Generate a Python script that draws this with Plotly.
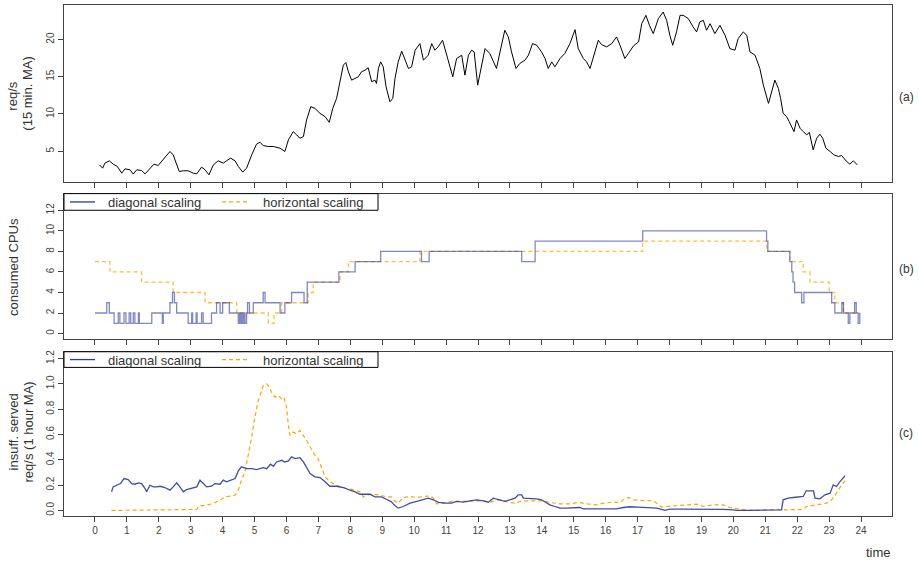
import plotly.graph_objects as go

W, H = 919, 561

# ---------------- data ----------------
# (a) request rate, 15-minute moving average
hours_a = [0.14, 0.24, 0.31, 0.45, 0.57, 0.70, 0.84, 0.94, 1.10, 1.20, 1.31, 1.46, 1.57, 1.72, 1.85, 1.98,
           2.14, 2.35, 2.45, 2.56, 2.64, 2.77, 2.92, 3.08, 3.19, 3.34, 3.45, 3.57, 3.71, 3.86, 4.02, 4.12,
           4.25, 4.39, 4.49, 4.63, 4.75, 4.91, 5.06, 5.17, 5.27, 5.43, 5.59, 5.80, 5.95, 6.06, 6.21, 6.32,
           6.42, 6.53, 6.63, 6.76, 6.89, 7.05, 7.21, 7.34, 7.45, 7.57, 7.68, 7.78, 7.86, 7.94, 8.04, 8.15,
           8.25, 8.35, 8.46, 8.56, 8.67, 8.77, 8.82, 8.88, 8.95, 9.03, 9.12, 9.24, 9.33, 9.40, 9.50, 9.61,
           9.71, 9.82, 9.92, 10.03, 10.18, 10.29, 10.44, 10.55, 10.65, 10.75, 10.89, 11.02, 11.12, 11.21,
           11.33, 11.49, 11.59, 11.70, 11.80, 11.88, 11.99, 12.09, 12.22, 12.37, 12.48, 12.58, 12.69, 12.84,
           12.95, 13.05, 13.19, 13.31, 13.47, 13.58, 13.71, 13.84, 13.99, 14.10, 14.20, 14.31, 14.41, 14.57,
           14.72, 14.88, 15.04, 15.14, 15.30, 15.40, 15.51, 15.61, 15.77, 15.87, 16.03, 16.19, 16.34, 16.45,
           16.60, 16.71, 16.87, 17.03, 17.13, 17.26, 17.37, 17.49, 17.65, 17.80, 17.91, 18.01, 18.10, 18.22,
           18.33, 18.43, 18.59, 18.74, 18.85, 18.95, 19.06, 19.16, 19.27, 19.42, 19.58, 19.74, 19.89, 20.05,
           20.15, 20.31, 20.42, 20.52, 20.68, 20.83, 20.94, 21.10, 21.20, 21.30, 21.41, 21.48, 21.56, 21.67,
           21.75, 21.83, 21.90, 21.98, 22.09, 22.19, 22.30, 22.38, 22.50, 22.61, 22.71, 22.80, 22.90, 23.03,
           23.15, 23.29, 23.39, 23.55, 23.65, 23.76, 23.88]
reqs_a = [3.17, 2.72, 3.39, 3.71, 3.26, 2.95, 2.05, 2.63, 2.50, 1.92, 2.50, 2.41, 1.96, 2.72, 3.26, 3.08,
          3.84, 4.96, 4.51, 3.17, 2.28, 2.37, 2.37, 2.05, 1.96, 2.86, 2.50, 1.83, 3.17, 3.71, 3.39, 3.71,
          4.06, 3.71, 2.95, 2.19, 2.72, 4.51, 5.94, 6.21, 5.76, 5.63, 5.63, 5.40, 4.96, 6.52, 7.63, 7.19,
          6.74, 6.96, 9.20, 10.98, 10.76, 10.09, 9.64, 8.88, 10.76, 12.10, 14.55, 16.56, 16.92, 15.67, 14.55, 14.78,
          15.00, 15.67, 15.89, 16.21, 14.33, 14.55, 14.11, 16.12, 17.01, 16.34, 13.66, 11.65, 12.10, 14.78, 17.01, 18.44,
          17.23, 16.12, 16.34, 18.57, 19.46, 17.23, 17.90, 19.46, 18.57, 19.02, 19.91, 17.90, 16.56, 15.00,
          17.46, 17.90, 15.22, 17.90, 18.57, 18.35, 13.88, 16.12, 18.79, 18.13, 17.01, 16.12, 18.35, 21.25,
          20.36, 18.35, 16.12, 16.79, 17.23, 17.90, 19.46, 19.24, 18.35, 17.46, 16.12, 17.01, 16.34, 17.46,
          18.13, 19.46, 21.34, 18.79, 17.46, 17.01, 16.12, 17.68, 19.91, 19.33, 19.02, 19.46, 20.36, 19.24,
          17.46, 18.13, 19.15, 19.69, 22.14, 23.26, 21.92, 20.80, 22.81, 23.71, 22.59, 20.58, 19.24, 21.03,
          23.26, 23.26, 22.81, 21.70, 21.03, 22.37, 22.59, 21.25, 22.14, 20.80, 21.92, 20.58, 18.79, 18.57,
          20.13, 21.03, 20.58, 18.35, 17.90, 16.12, 13.88, 11.43, 12.99, 14.55, 13.44, 12.10, 10.09, 9.64,
          8.97, 8.30, 7.63, 9.20, 8.08, 7.63, 7.19, 7.54, 5.18, 6.74, 7.28, 6.74, 5.40, 4.96,
          4.51, 4.29, 4.42, 3.62, 3.26, 3.71, 3.17]

# (b) consumed CPUs (step changes: start hour, CPU count)
cpu_diag_t = [0, 0.37, 0.45, 0.60, 0.73, 0.78, 0.91, 0.97, 1.07, 1.12, 1.20, 1.25, 1.36, 1.39, 1.78, 2.11,
              2.14, 2.35, 2.43, 2.49, 2.56, 2.92, 3.03, 3.06, 3.17, 3.20, 3.34, 3.39, 3.65, 3.81, 3.92, 4.00,
              4.21, 4.49, 4.53, 4.56, 4.60, 4.63, 4.67, 4.70, 4.75, 4.78, 4.84, 4.96, 5.27, 5.33, 5.80, 5.95,
              6.16, 6.55, 6.65, 7.64, 8.15, 8.95, 10.23, 10.47, 13.37, 13.79, 17.16, 21.04, 21.08, 21.77,
              21.83, 21.87, 21.92, 22.14, 22.21, 23.08, 23.18, 23.40, 23.45, 23.60, 23.65, 23.80, 23.85,
              23.91, 23.96]
cpu_diag = [2, 3, 2, 1, 2, 1, 2, 1, 2, 1, 2, 1, 2, 1, 2, 1,
            2, 3, 4, 3, 2, 1, 2, 1, 2, 1, 2, 1, 2, 3, 2, 3,
            2, 1, 2, 1, 2, 1, 2, 1, 2, 3, 2, 3, 4, 3, 2, 3,
            4, 3, 5, 6, 7, 8, 7, 8, 7, 9, 10, 9, 8, 7,
            6, 5, 4, 3, 4, 3, 2, 3, 2, 1, 2, 3, 2,
            1, 2]
cpu_horiz_t = [0, 0.47, 1.46, 2.45, 3.45, 4.44, 5.43, 5.61, 5.85, 6.68, 6.84, 7.68, 7.94, 10.18, 17.16,
               21.04, 21.77, 22.19, 22.40, 23.00, 23.18, 23.45, 23.98]
cpu_horiz = [7, 6, 5, 4, 3, 2, 1, 2, 3, 4, 5, 6, 7, 8, 9, 8, 7, 6, 5, 4, 3, 2, 2]

# (c) insufficiently served requests, 1-hour moving average
ins_diag_t = [0.52, 0.57, 0.68, 0.80, 0.91, 1.04, 1.15, 1.25, 1.36, 1.46, 1.57, 1.62, 1.72, 1.83, 1.93, 2.04,
              2.19, 2.35, 2.45, 2.56, 2.66, 2.77, 2.87, 3.03, 3.19, 3.29, 3.39, 3.50, 3.65, 3.76, 3.92, 4.02,
              4.12, 4.28, 4.39, 4.49, 4.59, 4.75, 4.91, 5.06, 5.27, 5.38, 5.50, 5.59, 5.69, 5.85, 5.95, 6.06,
              6.16, 6.27, 6.42, 6.53, 6.63, 6.74, 6.89, 7.05, 7.21, 7.36, 7.57, 7.78, 7.99, 8.15, 8.30, 8.46,
              8.62, 8.77, 8.98, 9.14, 9.29, 9.37, 9.50, 9.66, 9.87, 10.08, 10.29, 10.44, 10.60, 10.76, 10.97,
              11.17, 11.33, 11.54, 11.75, 11.96, 12.17, 12.32, 12.48, 12.69, 12.84, 13.00, 13.16, 13.26, 13.37,
              13.42, 13.63, 13.84, 13.99, 14.10, 14.25, 14.41, 14.57, 14.78, 14.99, 15.19, 15.30, 15.51, 15.82,
              16.13, 16.34, 16.55, 16.76, 17.02, 17.28, 17.60, 17.86, 18.01, 18.33, 18.64, 18.95, 19.27, 19.68,
              20.00, 20.10, 20.42, 20.73, 20.89, 21.25, 21.51, 21.56, 21.72, 21.88, 22.19, 22.28, 22.40, 22.51,
              22.56, 22.71, 22.87, 23.03, 23.13, 23.23, 23.34, 23.42, 23.50]
ins_diag = [0.147, 0.186, 0.199, 0.212, 0.252, 0.244, 0.212, 0.207, 0.218, 0.212, 0.173, 0.147, 0.199, 0.186,
            0.186, 0.191, 0.181, 0.160, 0.186, 0.218, 0.186, 0.147, 0.165, 0.173, 0.186, 0.239, 0.212, 0.186,
            0.191, 0.212, 0.207, 0.239, 0.226, 0.244, 0.252, 0.312, 0.344, 0.330, 0.330, 0.323, 0.338, 0.330,
            0.365, 0.349, 0.383, 0.396, 0.383, 0.391, 0.423, 0.409, 0.417, 0.383, 0.344, 0.291, 0.265, 0.260,
            0.226, 0.191, 0.191, 0.181, 0.160, 0.147, 0.128, 0.128, 0.128, 0.107, 0.107, 0.086, 0.068, 0.044,
            0.018, 0.031, 0.057, 0.071, 0.084, 0.097, 0.084, 0.063, 0.057, 0.057, 0.071, 0.065, 0.076, 0.084,
            0.076, 0.065, 0.097, 0.084, 0.071, 0.084, 0.097, 0.123, 0.123, 0.097, 0.097, 0.092, 0.084, 0.065,
            0.044, 0.031, 0.018, 0.018, 0.018, 0.023, 0.013, 0.013, 0.013, 0.013, 0.013, 0.023, 0.029, 0.026,
            0.023, 0.018, 0.000, 0.010, 0.010, 0.010, 0.013, 0.010, 0.008, 0.005, 0.000, 0.000, 0.000, 0.005,
            0.005, 0.005, 0.084, 0.097, 0.102, 0.110, 0.155, 0.155, 0.155, 0.097, 0.092, 0.123, 0.136, 0.202,
            0.189, 0.228, 0.254, 0.275]
ins_horiz_t = [0.52, 1.62, 2.25, 3.19, 3.24, 3.50, 3.71, 3.92, 4.07, 4.23, 4.39, 4.49, 4.59, 4.70, 4.80, 4.91,
               5.01, 5.12, 5.22, 5.27, 5.38, 5.46, 5.53, 5.64, 5.74, 5.85, 5.92, 6.00, 6.06, 6.11, 6.21, 6.32,
               6.42, 6.53, 6.63, 6.74, 6.89, 6.99, 7.10, 7.21, 7.36, 7.52, 7.68, 7.88, 8.09, 8.30, 8.41, 8.51,
               8.72, 8.93, 9.14, 9.29, 9.35, 9.50, 9.66, 9.87, 10.08, 10.29, 10.50, 10.60, 10.70, 10.91, 11.17,
               11.43, 11.75, 11.96, 12.17, 12.37, 12.69, 12.95, 13.16, 13.37, 13.63, 13.89, 14.05, 14.20, 14.36,
               14.57, 14.88, 15.14, 15.40, 15.72, 15.93, 16.19, 16.45, 16.55, 16.71, 16.87, 17.18, 17.49, 17.60,
               17.75, 17.91, 18.22, 18.54, 18.85, 19.06, 19.37, 19.68, 19.89, 20.21, 20.52, 20.73, 21.04, 21.35,
               21.67, 21.98, 22.19, 22.29, 22.50, 22.71, 22.92, 23.08, 23.23, 23.39, 23.50]
ins_horiz = [0.000, 0.000, 0.005, 0.008, 0.034, 0.042, 0.055, 0.081, 0.107, 0.113, 0.121, 0.160, 0.239, 0.304,
             0.423, 0.580, 0.737, 0.869, 0.947, 0.987, 1.000, 0.979, 0.934, 0.895, 0.908, 0.882, 0.895, 0.816,
             0.672, 0.593, 0.619, 0.606, 0.632, 0.593, 0.554, 0.501, 0.436, 0.409, 0.330, 0.265, 0.226, 0.207,
             0.186, 0.173, 0.165, 0.147, 0.107, 0.121, 0.128, 0.121, 0.107, 0.107, 0.084, 0.057, 0.102, 0.110,
             0.102, 0.110, 0.115, 0.097, 0.052, 0.057, 0.071, 0.071, 0.076, 0.076, 0.076, 0.065, 0.084, 0.065,
             0.057, 0.076, 0.076, 0.078, 0.076, 0.065, 0.057, 0.052, 0.052, 0.063, 0.052, 0.044, 0.057, 0.065,
             0.063, 0.084, 0.102, 0.084, 0.078, 0.076, 0.057, 0.026, 0.031, 0.039, 0.044, 0.050, 0.031, 0.044,
             0.044, 0.023, 0.010, 0.000, 0.000, 0.005, 0.008, 0.005, 0.008, 0.008, 0.031, 0.039, 0.044, 0.057,
             0.084, 0.136, 0.202, 0.234]

hour_ticks = list(range(0, 25))
series_names = ["diagonal scaling", "horizontal scaling"]

BLUE = "#2b3a9b"
ORANGE = "#ffa500"
FRAME = "#444444"
TXT = "#333333"
FONT = "Liberation Sans, Arial, sans-serif"


def px(x):
    return x / W


def py(y):
    return 1 - y / H


fig = go.Figure()

fig.add_trace(go.Scatter(x=hours_a, y=reqs_a, mode="lines",
                         line=dict(color="black", width=1), xaxis="x", yaxis="y"))

fig.add_trace(go.Scatter(x=cpu_horiz_t, y=cpu_horiz, mode="lines",
                         line=dict(color="rgba(255,165,0,0.75)", width=1.3, dash="4px,3px", shape="hv"),
                         xaxis="x2", yaxis="y2"))
fig.add_trace(go.Scatter(x=cpu_diag_t, y=cpu_diag, mode="lines",
                         line=dict(color="rgba(43,58,155,0.6)", width=1.3, shape="hv"),
                         xaxis="x2", yaxis="y2"))

fig.add_trace(go.Scatter(x=ins_horiz_t, y=ins_horiz, mode="lines",
                         line=dict(color=ORANGE, width=1.2, dash="4px,3px"),
                         xaxis="x3", yaxis="y3"))
fig.add_trace(go.Scatter(x=ins_diag_t, y=ins_diag, mode="lines",
                         line=dict(color="rgba(43,58,155,0.9)", width=1.3),
                         xaxis="x3", yaxis="y3"))

xdom = [px(64), px(892)]
doms = {
    "a": [py(180.5), py(3)],
    "b": [py(338), py(192.3)],
    "c": [py(515.7), py(351)],
}


def xaxis(anchor, labels):
    return dict(domain=xdom, anchor=anchor, range=[-0.97, 24.97], tickvals=hour_ticks,
                ticktext=[str(h) for h in hour_ticks], showticklabels=labels,
                ticks="outside", ticklen=5, tickcolor=FRAME, showline=True, linecolor=FRAME,
                linewidth=1, mirror=True, showgrid=False, zeroline=False,
                tickfont=dict(family=FONT, size=10, color="#444"))


def yaxis(anchor, dom, rng, vals, fmt):
    return dict(domain=dom, anchor=anchor, range=rng, tickvals=vals,
                ticktext=[fmt.format(v) for v in vals], tickangle=-90,
                ticks="outside", ticklen=5, tickcolor=FRAME, showline=True, linecolor=FRAME,
                linewidth=1, mirror=True, showgrid=False, zeroline=False,
                tickfont=dict(family=FONT, size=10, color="#444"))


shapes = []
annotations = []


def text(x, y, s, size=13, angle=0, xanchor="center"):
    annotations.append(dict(x=px(x), y=py(y), xref="paper", yref="paper", text=s, showarrow=False,
                            textangle=angle, xanchor=xanchor, yanchor="middle",
                            font=dict(family=FONT, size=size, color=TXT)))


def legend_box(top, bottom):
    mid = (top + bottom) / 2
    shapes.append(dict(type="rect", xref="paper", yref="paper", x0=px(64), x1=px(378),
                       y0=py(bottom), y1=py(top), line=dict(color="black", width=1),
                       fillcolor="white", layer="above"))
    shapes.append(dict(type="line", xref="paper", yref="paper", x0=px(70), x1=px(95),
                       y0=py(mid), y1=py(mid), line=dict(color=BLUE, width=1.3)))
    shapes.append(dict(type="line", xref="paper", yref="paper", x0=px(222), x1=px(247),
                       y0=py(mid), y1=py(mid), line=dict(color=ORANGE, width=1.3, dash="4px,3px")))
    text(106, mid + 1, series_names[0], xanchor="left")
    text(261, mid + 1, series_names[1], xanchor="left")


legend_box(192.3, 209)
legend_box(351, 366.7)

# axis titles
text(13, 95, "req/s", angle=-90)
text(28, 92, "(15 min. MA)", angle=-90)
text(13, 266, "consumed CPUs", angle=-90)
text(13, 432, "insuff. served", angle=-90)
text(28, 432, "req/s (1 hour MA)", angle=-90)
text(897, 95, "(a)", size=12, xanchor="left")
text(897, 268, "(b)", size=12, xanchor="left")
text(897, 433, "(c)", size=12, xanchor="left")
text(878, 552, "time", size=13)

fig.update_layout(
    width=W, height=H, margin=dict(l=0, r=0, t=0, b=0),
    paper_bgcolor="white", plot_bgcolor="white", showlegend=False,
    xaxis=xaxis("y", False),
    xaxis2=xaxis("y2", False),
    xaxis3=xaxis("y3", True),
    yaxis=yaxis("x", doms["a"], [0.88, 24.65], [5, 10, 15, 20], "{:d}"),
    yaxis2=yaxis("x2", doms["b"], [-0.51, 13.63], [0, 2, 4, 6, 8, 10, 12], "{:d}"),
    yaxis3=yaxis("x3", doms["c"], [-0.043, 1.254], [0.0, 0.2, 0.4, 0.6, 0.8, 1.0, 1.2], "{:.1f}"),
    shapes=shapes, annotations=annotations,
)

fig.write_html("out.html")
